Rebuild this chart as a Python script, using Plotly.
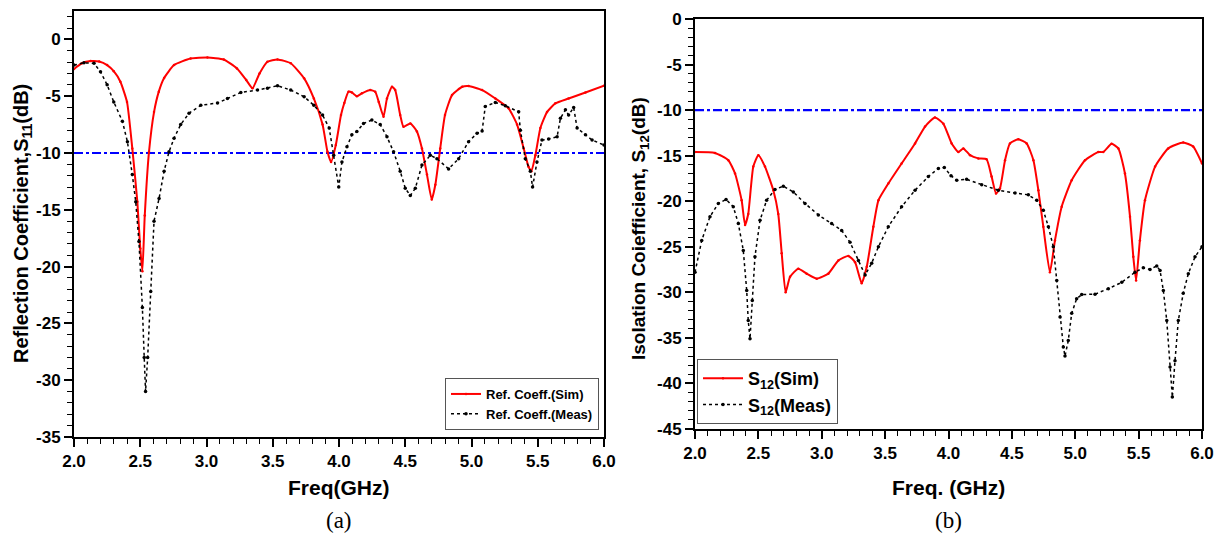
import plotly.graph_objects as go

# ---------------- data: (a) reflection coefficient S11 ----------------
f_a_sim = [2.0, 2.06, 2.126, 2.19, 2.25, 2.30, 2.35, 2.40, 2.44, 2.478, 2.50, 2.516, 2.534, 2.566, 2.604,
           2.64, 2.68, 2.755, 2.88, 3.007, 3.13, 3.23, 3.30, 3.347, 3.40, 3.46, 3.536, 3.636, 3.737, 3.81,
           3.876, 3.913, 3.94, 3.976, 4.015, 4.04, 4.072, 4.097, 4.135, 4.173, 4.236, 4.273, 4.30, 4.336,
           4.362, 4.40, 4.424, 4.462, 4.487, 4.538, 4.588, 4.626, 4.664, 4.70, 4.727, 4.764, 4.80, 4.853,
           4.93, 4.978, 5.08, 5.18, 5.28, 5.344, 5.394, 5.43, 5.452, 5.482, 5.52, 5.57, 5.633, 5.733, 5.86, 6.0]
s11_sim = [-2.6, -2.1, -1.91, -1.95, -2.26, -2.8, -3.73, -5.5, -9.6, -14.3, -18.4, -20.4, -15.5, -9.9, -6.4,
           -4.6, -3.4, -2.26, -1.68, -1.59, -1.77, -2.56, -3.58, -4.3, -3.0, -1.97, -1.76, -2.1, -3.43, -5.2,
           -7.5, -9.9, -10.8, -9.3, -6.66, -5.6, -4.6, -4.67, -5.0, -4.75, -4.46, -4.6, -5.5, -6.8,
           -5.2, -4.17, -4.46, -6.66, -7.7, -7.4, -8.1, -9.6, -11.9, -14.1, -12.8, -9.6, -6.66, -4.9,
           -4.17, -4.1, -4.46, -5.2, -6.07, -7.5, -9.6, -11.2, -11.6, -10.2, -7.8, -6.4, -5.63, -5.2, -4.67, -4.08]

f_a_meas = [2.0, 2.075, 2.151, 2.20, 2.25, 2.30, 2.365, 2.403, 2.44, 2.466, 2.49, 2.516, 2.53, 2.54, 2.556,
            2.579, 2.604, 2.642, 2.68, 2.717, 2.755, 2.805, 2.868, 2.957, 3.083, 3.158, 3.259, 3.385, 3.46,
            3.536, 3.636, 3.737, 3.81, 3.876, 3.926, 3.96, 3.998, 4.022, 4.06, 4.097, 4.135, 4.185, 4.248,
            4.311, 4.362, 4.412, 4.462, 4.50, 4.538, 4.576, 4.626, 4.689, 4.739, 4.827, 4.903, 4.978, 5.042,
            5.08, 5.104, 5.18, 5.255, 5.356, 5.369, 5.406, 5.444, 5.461, 5.494, 5.532, 5.582, 5.646, 5.671,
            5.709, 5.733, 5.771, 5.797, 5.86, 5.91, 6.0]
s11_meas = [-2.26, -2.06, -2.1, -2.85, -4.0, -5.5, -7.2, -9.0, -11.9, -14.3, -17.8, -23.6, -28.0, -31.0, -28.0,
            -22.2, -16.0, -14.0, -11.6, -9.9, -8.7, -7.5, -6.5, -5.8, -5.6, -5.2, -4.67, -4.46, -4.3,
            -4.08, -4.46, -5.05, -5.8, -6.66, -7.8, -10.2, -13.0, -10.8, -9.45, -8.4, -8.1, -7.4, -7.1,
            -7.5, -8.57, -9.9, -11.6, -13.1, -13.75, -13.1, -11.06, -10.2, -10.5, -11.4, -10.5, -9.0, -8.27,
            -8.07, -5.9, -5.55, -5.84, -6.37, -8.0, -10.5, -11.6, -13.0, -10.8, -8.86, -8.77, -8.57, -6.95,
            -6.2, -6.66, -6.0, -7.8, -8.4, -8.86, -9.3]

# ---------------- data: (b) isolation coefficient S12 ----------------
f_b_sim = [2.0, 2.158, 2.263, 2.316, 2.368, 2.395, 2.42, 2.46, 2.50, 2.552, 2.618, 2.657, 2.684, 2.715, 2.75,
           2.815, 2.881, 2.96, 3.052, 3.131, 3.21, 3.263, 3.315, 3.355, 3.407, 3.447, 3.525, 3.63, 3.736,
           3.815, 3.893, 3.96, 4.025, 4.078, 4.117, 4.17, 4.235, 4.30, 4.34, 4.375, 4.406, 4.446, 4.485,
           4.551, 4.617, 4.67, 4.709, 4.748, 4.80, 4.84, 4.893, 4.972, 5.077, 5.182, 5.221, 5.287, 5.34,
           5.392, 5.432, 5.458, 5.48, 5.51, 5.55, 5.63, 5.734, 5.852, 5.93, 6.0]
s12_sim = [-14.6, -14.7, -15.5, -16.96, -19.9, -22.6, -21.4, -16.2, -14.95, -16.2, -18.8, -21.4, -25.7, -30.0, -28.3,
           -27.4, -27.95, -28.5, -27.95, -26.5, -26.0, -26.7, -29.0, -27.2, -22.8, -19.9, -18.06, -15.86, -13.66,
           -11.8, -10.8, -11.5, -13.66, -14.6, -14.2, -14.95, -15.3, -15.4, -17.3, -19.15, -18.6, -15.5, -13.66,
           -13.2, -13.66, -15.5, -18.8, -22.8, -27.8, -24.3, -20.6, -17.7, -15.5, -14.6, -14.6, -13.7, -14.2,
           -16.96, -21.7, -26.1, -28.7, -24.3, -19.9, -16.2, -14.2, -13.55, -14.0, -15.86]

f_b_meas = [2.0, 2.053, 2.118, 2.184, 2.245, 2.302, 2.342, 2.381, 2.408, 2.42, 2.434, 2.452, 2.473, 2.513, 2.565,
            2.631, 2.697, 2.776, 2.868, 2.973, 3.078, 3.157, 3.223, 3.289, 3.342, 3.394, 3.447, 3.525, 3.63,
            3.736, 3.841, 3.92, 3.967, 4.02, 4.065, 4.143, 4.262, 4.393, 4.525, 4.63, 4.696, 4.748, 4.788,
            4.827, 4.854, 4.88, 4.906, 4.919, 4.945, 4.972, 5.011, 5.051, 5.156, 5.261, 5.367, 5.471, 5.537,
            5.59, 5.643, 5.669, 5.695, 5.722, 5.748, 5.766, 5.787, 5.813, 5.852, 5.892, 5.945, 6.0]
s12_meas = [-27.8, -24.3, -21.7, -20.25, -19.8, -20.6, -22.45, -25.4, -29.8, -33.1, -35.1, -30.9, -26.1, -22.1, -19.9,
            -18.7, -18.35, -18.98, -20.25, -21.5, -22.45, -23.2, -24.5, -26.5, -28.1, -26.8, -25.0, -22.8, -20.6,
            -18.8, -17.3, -16.4, -16.3, -17.2, -17.7, -17.6, -18.2, -18.8, -19.1, -19.3, -19.9, -21.0, -22.8,
            -25.0, -28.7, -32.7, -36.0, -37.0, -35.3, -32.3, -30.7, -30.25, -30.2, -29.6, -28.9, -27.8, -27.3,
            -27.5, -27.1, -27.6, -29.8, -33.1, -38.2, -41.5, -37.5, -33.1, -30.1, -27.95, -26.1, -25.0]

threshold_x = [2.0, 6.0]
threshold_y = [-10, -10]

x_tickvals = [2.0, 2.5, 3.0, 3.5, 4.0, 4.5, 5.0, 5.5, 6.0]
x_ticktext = ["2.0", "2.5", "3.0", "3.5", "4.0", "4.5", "5.0", "5.5", "6.0"]
ya_tickvals = [0, -5, -10, -15, -20, -25, -30, -35]
ya_ticktext = ["0", "-5", "-10", "-15", "-20", "-25", "-30", "-35"]
yb_tickvals = [0, -5, -10, -15, -20, -25, -30, -35, -40, -45]
yb_ticktext = ["0", "-5", "-10", "-15", "-20", "-25", "-30", "-35", "-40", "-45"]

FONT = "Liberation Sans, Arial, sans-serif"
SERIF = "Liberation Serif, Times New Roman, serif"
RED = "#ff0000"
BLUE = "#0000ff"

fig = go.Figure()

# (a)
fig.add_trace(go.Scatter(x=threshold_x, y=threshold_y, mode="lines", xaxis="x", yaxis="y",
                         line=dict(color=BLUE, width=2.2, dash="dashdot"), showlegend=False, hoverinfo="skip"))
fig.add_trace(go.Scatter(x=f_a_sim, y=s11_sim, mode="lines+markers", name="Ref. Coeff.(Sim)",
                         xaxis="x", yaxis="y", legend="legend",
                         line=dict(color=RED, width=2, shape="spline", smoothing=0.5),
                         marker=dict(size=2.5, color=RED)))
fig.add_trace(go.Scatter(x=f_a_meas, y=s11_meas, mode="lines+markers", name="Ref. Coeff.(Meas)",
                         xaxis="x", yaxis="y", legend="legend",
                         line=dict(color="black", width=1.5, dash="dot"), marker=dict(size=3.5, color="black")))

# (b)
fig.add_trace(go.Scatter(x=threshold_x, y=threshold_y, mode="lines", xaxis="x2", yaxis="y2",
                         line=dict(color=BLUE, width=2.2, dash="dashdot"), showlegend=False, hoverinfo="skip"))
fig.add_trace(go.Scatter(x=f_b_sim, y=s12_sim, mode="lines+markers", name="S<sub>12</sub>(Sim)",
                         xaxis="x2", yaxis="y2", legend="legend2",
                         line=dict(color=RED, width=2, shape="spline", smoothing=0.5),
                         marker=dict(size=2.5, color=RED)))
fig.add_trace(go.Scatter(x=f_b_meas, y=s12_meas, mode="lines+markers", name="S<sub>12</sub>(Meas)",
                         xaxis="x2", yaxis="y2", legend="legend2",
                         line=dict(color="black", width=1.5, dash="dot"), marker=dict(size=3.5, color="black")))

W, H = 1222, 535


def px_x(p):
    return p / W


def px_y(p):
    return 1 - p / H


common_x = dict(range=[2.0, 6.0], tickvals=x_tickvals, ticktext=x_ticktext, showgrid=False, zeroline=False,
                automargin=False,
                showline=True, linecolor="black", linewidth=2, mirror=True,
                ticks="outside", ticklen=8, tickwidth=1.5, tickcolor="black",
                minor=dict(dtick=0.1, ticks="outside", ticklen=5, tickwidth=1.2, tickcolor="black", showgrid=False),
                tickfont=dict(family=FONT, size=17, color="black", weight="bold"))
common_y = dict(showgrid=False, zeroline=False, showline=True, linecolor="black", linewidth=2, mirror=True,
                automargin=False,
                ticks="outside", ticklen=8, tickwidth=1.5, tickcolor="black",
                minor=dict(dtick=1, ticks="outside", ticklen=5, tickwidth=1.2, tickcolor="black", showgrid=False),
                tickfont=dict(family=FONT, size=17, color="black", weight="bold"))

fig.update_layout(
    width=W, height=H, margin=dict(l=0, r=0, t=0, b=0, autoexpand=False),
    paper_bgcolor="white", plot_bgcolor="white",
    xaxis=dict(domain=[px_x(74), px_x(604)], anchor="y", **common_x),
    yaxis=dict(domain=[px_y(437), px_y(11)], anchor="x", range=[-35, 2.5],
               tickvals=ya_tickvals, ticktext=ya_ticktext, **common_y),
    xaxis2=dict(domain=[px_x(695), px_x(1202)], anchor="y2", **common_x),
    yaxis2=dict(domain=[px_y(429), px_y(19)], anchor="x2", range=[-45, 0],
                tickvals=yb_tickvals, ticktext=yb_ticktext, **common_y),
    legend=dict(x=px_x(599), y=px_y(430), xanchor="right", yanchor="bottom",
                bgcolor="white", bordercolor="#555555", borderwidth=1,
                font=dict(family=FONT, size=13, color="black", weight="bold"),
                itemwidth=30, tracegroupgap=0),
    legend2=dict(x=px_x(697), y=px_y(424), xanchor="left", yanchor="bottom",
                 bgcolor="white", bordercolor="#555555", borderwidth=1,
                 font=dict(family=FONT, size=18, color="black", weight="bold"),
                 itemwidth=40, tracegroupgap=0),
    showlegend=True,
)


def label(text, x, y, size, family=FONT, bold=True, angle=0):
    return dict(text=text, x=px_x(x), y=px_y(y), xref="paper", yref="paper", showarrow=False,
                xanchor="center", yanchor="middle", textangle=angle,
                font=dict(family=family, size=size, color="black", weight="bold" if bold else "normal"))


ann = [
    label("Freq(GHz)", 339, 487, 21),
    label("Freq. (GHz)", 948, 487, 21),
    label("Reflection Coefficient,S<sub>11</sub>(dB)", 22, 224, 20, angle=-90),
    label("Isolation Coiefficient, S<sub>12</sub>(dB)", 640, 229, 19, angle=-90),
    label("(a)", 339, 520, 23, family=SERIF, bold=False),
    label("(b)", 948, 520, 23, family=SERIF, bold=False),
]
fig.update_layout(annotations=ann)

fig.write_html("out.html")
